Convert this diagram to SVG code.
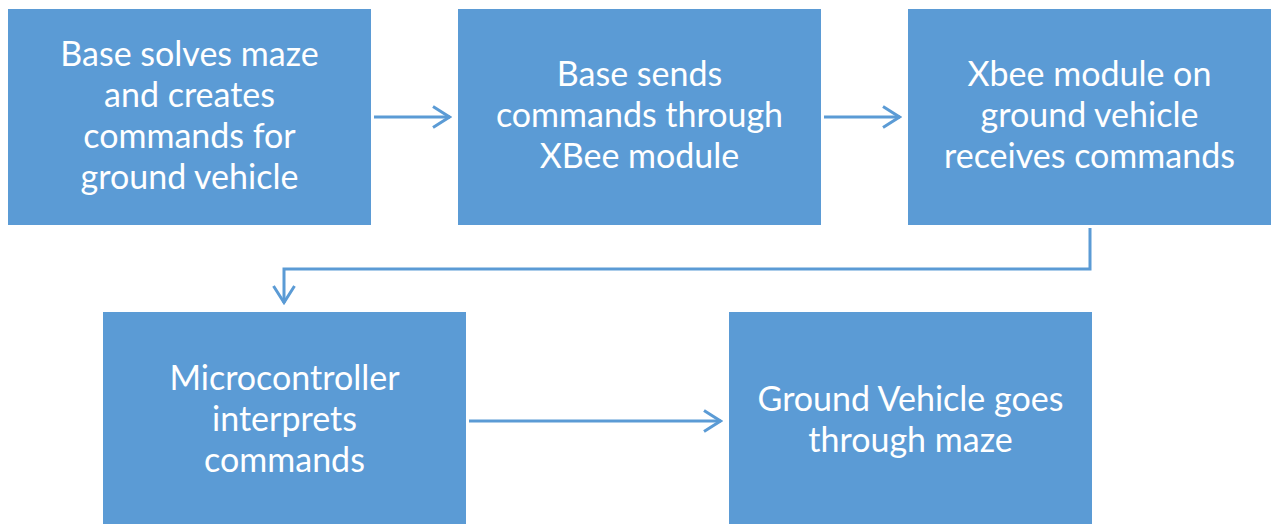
<svg xmlns="http://www.w3.org/2000/svg" width="1275" height="524" viewBox="0 0 1275 524">
<defs>
<style>
.box{fill:#5B9BD5;}
.t{fill:#FFFFFF;font-family:Lato,"Open Sans","Liberation Sans",sans-serif;font-size:34px;text-anchor:middle;}
.c{fill:none;stroke:#5B9BD5;stroke-width:3;}
</style>
<marker id="ah" viewBox="0 0 20 24" refX="18.5" refY="12" markerWidth="20" markerHeight="24" markerUnits="userSpaceOnUse" orient="auto">
<path d="M1.5,1.5 L18,12 L1.5,22.5" fill="none" stroke="#5B9BD5" stroke-width="3"/>
</marker>
</defs>
<rect width="1275" height="524" fill="#FFFFFF"/>
<g id="connectors">
<line class="c" x1="374" y1="117" x2="450" y2="117" marker-end="url(#ah)"/>
<line class="c" x1="824" y1="117" x2="900" y2="117" marker-end="url(#ah)"/>
<polyline class="c" points="1090,228 1090,269 284,269 284,303" marker-end="url(#ah)"/>
<line class="c" x1="469" y1="421" x2="721" y2="421" marker-end="url(#ah)"/>
</g>
<g id="node1">
<rect class="box" x="8" y="9" width="363" height="216"/>
<text class="t" x="189.5" y="66">Base solves maze</text>
<text class="t" x="189.5" y="107">and creates</text>
<text class="t" x="189.5" y="148">commands for</text>
<text class="t" x="189.5" y="189">ground vehicle</text>
</g>
<g id="node2">
<rect class="box" x="458" y="9" width="363" height="216"/>
<text class="t" x="639.5" y="86">Base sends</text>
<text class="t" x="639.5" y="127">commands through</text>
<text class="t" x="639.5" y="168">XBee module</text>
</g>
<g id="node3">
<rect class="box" x="908" y="9" width="363" height="216"/>
<text class="t" x="1089.5" y="86">Xbee module on</text>
<text class="t" x="1089.5" y="127">ground vehicle</text>
<text class="t" x="1089.5" y="168">receives commands</text>
</g>
<g id="node4">
<rect class="box" x="103" y="312" width="363" height="216"/>
<text class="t" x="284.5" y="390">Microcontroller</text>
<text class="t" x="284.5" y="431">interprets</text>
<text class="t" x="284.5" y="472">commands</text>
</g>
<g id="node5">
<rect class="box" x="729" y="312" width="363" height="216"/>
<text class="t" x="910.5" y="411">Ground Vehicle goes</text>
<text class="t" x="910.5" y="452">through maze</text>
</g>
</svg>
